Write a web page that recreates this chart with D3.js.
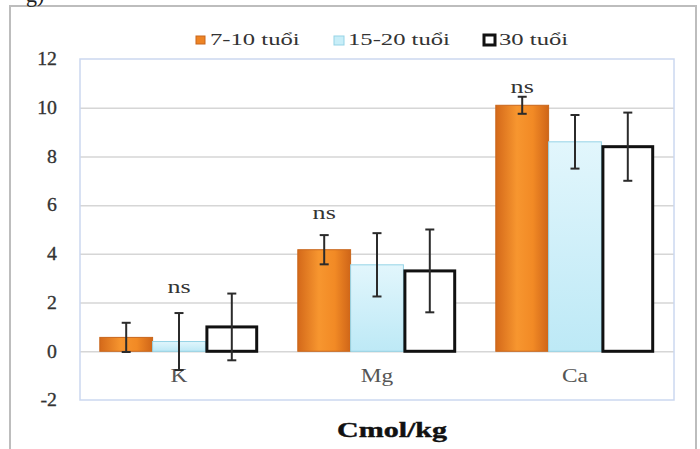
<!DOCTYPE html>
<html>
<head>
<meta charset="utf-8">
<script src="https://cdn.jsdelivr.net/npm/d3@7"></script>
</head>
<body style="margin:0">
<script>
// data
var categories = ["K", "Mg", "Ca"];
var series = ["7-10 tuổi", "15-20 tuổi", "30 tuổi"];
var means = [
    [0.57, 4.17, 10.1],   // 7-10 tuổi
    [0.40, 3.55, 8.6],    // 15-20 tuổi
    [1.00, 3.30, 8.4]     // 30 tuổi
];
var errors = [
    [0.60, 0.60, 0.35],
    [1.17, 1.30, 1.10],
    [1.37, 1.70, 1.40]
];
var yTicks = [-2, 0, 2, 4, 6, 8, 10, 12];
var nsLabels = ["ns", "ns", "ns"];
var nsValues = [2.6, 5.65, 10.8];
var xTitle = "Cmol/kg";

var FONT = "'Liberation Serif'";
var W = 700, H = 449;
var plot = {left: 80, right: 674, top: 59, bottom: 400};

// the source picture is stretched sideways, so texts are widened the same way
function stretch(sel, sx) {
    sel.each(function () {
        var t = d3.select(this);
        var x = +t.attr("x") || 0, y = +t.attr("y") || 0;
        t.attr("x", 0).attr("y", 0)
            .attr("transform", "translate(" + x + "," + y + ") scale(" + sx + ",1)");
    });
}

var svg = d3.select("body")
    .append("svg")
    .attr("width", W)
    .attr("height", H);

var defs = svg.append("defs");
var gOr = defs.append("linearGradient").attr("id", "gOrange")
    .attr("x1", "0").attr("x2", "1").attr("y1", "0").attr("y2", "0");
gOr.append("stop").attr("offset", "0%").attr("stop-color", "#d4691a");
gOr.append("stop").attr("offset", "40%").attr("stop-color", "#f7962f");
gOr.append("stop").attr("offset", "70%").attr("stop-color", "#f28a25");
gOr.append("stop").attr("offset", "100%").attr("stop-color", "#cf6518");
var gCy = defs.append("linearGradient").attr("id", "gCyan")
    .attr("x1", "0").attr("x2", "0").attr("y1", "0").attr("y2", "1");
gCy.append("stop").attr("offset", "0%").attr("stop-color", "#e2f6fc");
gCy.append("stop").attr("offset", "100%").attr("stop-color", "#bde9f6");

// outer frame
svg.append("rect")
    .attr("x", 10).attr("y", 6)
    .attr("width", 686).attr("height", H)
    .attr("fill", "#fff")
    .attr("stroke", "#bdbdbd")
    .attr("stroke-width", 2);

// caption at top left, cut off by the page edge as in the source
svg.append("text")
    .attr("x", 26).attr("y", 2)
    .style("font-family", FONT)
    .style("font-size", "22px")
    .attr("fill", "#222")
    .text("g)");

var y = d3.scaleLinear()
    .domain([-2, 12])
    .range([plot.bottom, plot.top]);

var x0 = d3.scaleBand()
    .domain(categories)
    .range([plot.left, plot.right])
    .paddingInner(0.2)
    .paddingOuter(0.1);

var x1 = d3.scaleBand()
    .domain(series)
    .range([0, x0.bandwidth()])
    .padding(0);

// gridlines
svg.append("g")
    .attr("transform", "translate(" + plot.left + ",0)")
    .call(d3.axisLeft(y).tickValues(yTicks.filter(function (d) { return d > -2 && d < 12; }))
        .tickSize(-(plot.right - plot.left)).tickFormat(""))
    .call(function (g) { g.select(".domain").remove(); })
    .selectAll("line")
    .attr("stroke", "#d6d6d6")
    .attr("stroke-width", 1.5);

// plot area border
svg.append("rect")
    .attr("x", plot.left).attr("y", plot.top)
    .attr("width", plot.right - plot.left)
    .attr("height", plot.bottom - plot.top)
    .attr("fill", "none")
    .attr("stroke", "#cbd8f0")
    .attr("stroke-width", 1.5);

// y tick labels
var yAxis = svg.append("g")
    .attr("transform", "translate(57,0)")
    .call(d3.axisLeft(y).tickValues(yTicks).tickSize(0).tickPadding(0)
        .tickFormat(function (d) { return String(d); }));
yAxis.select(".domain").remove();
yAxis.selectAll("text")
    .style("font-family", FONT)
    .style("font-size", "18px")
    .attr("fill", "#333")
    .attr("stroke", "#333")
    .attr("stroke-width", 0.3)
    .attr("transform", "scale(1.1,1)");

// category labels
svg.append("g")
    .selectAll("text")
    .data(categories)
    .enter()
    .append("text")
    .attr("x", function (d) { return x0(d) + x0.bandwidth() / 2; })
    .attr("y", y(0) + 31)
    .attr("text-anchor", "middle")
    .style("font-family", FONT)
    .style("font-size", "18px")
    .attr("fill", "#555")
    .text(function (d) { return d; })
    .call(stretch, 1.3);

var fills = ["url(#gOrange)", "url(#gCyan)", "#fff"];
var strokes = ["#c8661c", "#95d3e6", "#111"];
var strokeW = [1, 1, 3];

// bars
var bars = [];
series.forEach(function (s, si) {
    categories.forEach(function (c, ci) {
        bars.push({s: s, si: si, c: c, v: means[si][ci], e: errors[si][ci]});
    });
});

svg.append("g")
    .selectAll("rect")
    .data(bars)
    .enter()
    .append("rect")
    .attr("x", function (d) { return x0(d.c) + x1(d.s) + (d.si == 2 ? 1.5 : 0); })
    .attr("y", function (d) { return y(d.v); })
    .attr("width", function (d) { return x1.bandwidth() - (d.si == 2 ? 3 : 0); })
    .attr("height", function (d) { return y(0) - y(d.v); })
    .attr("fill", function (d) { return fills[d.si]; })
    .attr("stroke", function (d) { return strokes[d.si]; })
    .attr("stroke-width", function (d) { return strokeW[d.si]; });

// error bars
var eg = svg.append("g")
    .attr("stroke", "#2b2b2b")
    .attr("stroke-width", 2);
bars.forEach(function (d) {
    var cx = x0(d.c) + x1(d.s) + x1.bandwidth() / 2;
    var top = y(d.v + d.e), bot = y(d.v - d.e);
    eg.append("line").attr("x1", cx).attr("x2", cx).attr("y1", top).attr("y2", bot);
    eg.append("line").attr("x1", cx - 4.5).attr("x2", cx + 4.5).attr("y1", top).attr("y2", top);
    eg.append("line").attr("x1", cx - 4.5).attr("x2", cx + 4.5).attr("y1", bot).attr("y2", bot);
});

// "ns" labels
svg.append("g")
    .selectAll("text")
    .data(nsLabels)
    .enter()
    .append("text")
    .attr("x", function (d, i) {
        // K label sits over the group centre, the others over the first bar
        return i == 0 ? x0(categories[i]) + x0.bandwidth() / 2
                      : x0(categories[i]) + x1(series[0]) + x1.bandwidth() / 2;
    })
    .attr("y", function (d, i) { return y(nsValues[i]) + 5; })
    .attr("text-anchor", "middle")
    .style("font-family", FONT)
    .style("font-size", "18px")
    .attr("fill", "#333")
    .text(function (d) { return d; })
    .call(stretch, 1.45);

// legend
var legendX = [195, 333, 483];
var leg = svg.append("g");
series.forEach(function (s, i) {
    var g = leg.append("g").attr("transform", "translate(" + legendX[i] + ",35)");
    g.append("rect")
        .attr("x", 1).attr("y", i == 2 ? 0 : 1)
        .attr("width", i == 0 ? 9 : (i == 1 ? 10 : 11))
        .attr("height", i == 0 ? 8 : (i == 1 ? 9 : 10))
        .attr("fill", i == 0 ? "#ee8424" : (i == 1 ? "#c8eef8" : "#fff"))
        .attr("stroke", strokes[i])
        .attr("stroke-width", i == 2 ? 3 : 1);
    g.append("text")
        .attr("x", i == 2 ? 16 : 15).attr("y", 10)
        .style("font-family", FONT)
        .style("font-size", "17px")
        .attr("fill", "#333")
        .text(s)
        .call(stretch, 1.45);
});

// axis title
svg.append("text")
    .attr("x", 392).attr("y", 437)
    .attr("text-anchor", "middle")
    .style("font-family", FONT)
    .style("font-size", "20px")
    .style("font-weight", "bold")
    .attr("fill", "#111")
    .attr("stroke", "#111")
    .attr("stroke-width", 0.4)
    .text(xTitle)
    .call(stretch, 1.5);
</script>
</body>
</html>
